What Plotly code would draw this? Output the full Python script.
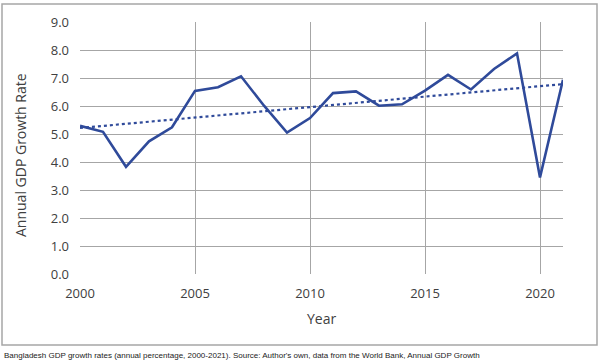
import numpy as np
import plotly.graph_objects as go

years = list(range(2000, 2022))
gdp_growth = [5.29, 5.08, 3.83, 4.74, 5.24, 6.54, 6.67, 7.06, 6.01, 5.05, 5.57,
              6.46, 6.52, 6.01, 6.06, 6.55, 7.11, 6.59, 7.32, 7.88, 3.45, 6.94]
y_ticks = [0, 1, 2, 3, 4, 5, 6, 7, 8, 9]
y_tick_labels = ["0.0", "1.0", "2.0", "3.0", "4.0", "5.0", "6.0", "7.0", "8.0", "9.0"]
x_ticks = [2000, 2005, 2010, 2015, 2020]
caption = ("Bangladesh GDP growth rates (annual percentage, 2000-2021). Source: Author's own, "
           "data from the World Bank, Annual GDP Growth")

# Linear trendline (least squares fit of the data, as in the original)
coef = np.polyfit(years, gdp_growth, 1)
trend = [coef[0] * y + coef[1] for y in [years[0], years[-1]]]

LINE = "#2F4A9A"
GRID = "#A6A6A6"
TXT = "#404040"

fig = go.Figure()
fig.add_trace(go.Scatter(x=[years[0], years[-1]], y=trend, mode="lines",
                         line=dict(color=LINE, width=2.2, dash="dot"),
                         showlegend=False, hoverinfo="skip"))
fig.add_trace(go.Scatter(x=years, y=gdp_growth, mode="lines",
                         line=dict(color=LINE, width=2.6),
                         showlegend=False))

W, H = 600, 364
ml, mr, mt, mb = 80, 37, 22, 90
pw, ph = W - ml - mr, H - mt - mb

def px_x(p):
    return (p - ml) / pw

def px_y(p):
    return (H - mb - p) / ph

fig.update_layout(
    width=W, height=H,
    margin=dict(l=ml, r=mr, t=mt, b=mb),
    paper_bgcolor="white", plot_bgcolor="white",
    font=dict(family="Open Sans", color=TXT, size=13),
    xaxis=dict(range=[2000, 2021], tickvals=x_ticks, showgrid=True, gridcolor=GRID,
               gridwidth=1.3, zeroline=False, showline=False, ticks="",
               ticklabelstandoff=10, tickfont=dict(size=13, color=TXT)),
    yaxis=dict(range=[0, 9], tickvals=y_ticks, ticktext=y_tick_labels, showgrid=True,
               gridcolor=GRID, gridwidth=1.3, zeroline=False, showline=False, ticks="",
               ticklabelstandoff=10, tickfont=dict(size=13, color=TXT)),
    shapes=[
        dict(type="rect", xref="paper", yref="paper",
             x0=px_x(2), x1=px_x(597), y0=px_y(345), y1=px_y(4),
             line=dict(color=GRID, width=1.5), fillcolor="rgba(0,0,0,0)", layer="below"),
    ],
    annotations=[
        dict(text="Year", xref="paper", yref="paper", x=0.5, y=px_y(318),
             showarrow=False, font=dict(size=14, color=TXT), xanchor="center", yanchor="middle"),
        dict(text="Annual GDP Growth Rate", xref="paper", yref="paper", x=px_x(20),
             y=px_y(155), textangle=-90, showarrow=False, font=dict(size=14, color=TXT),
             xanchor="center", yanchor="middle"),
        dict(text=caption, xref="paper", yref="paper", x=px_x(2), y=px_y(355),
             showarrow=False, font=dict(family="Liberation Sans", size=8, color="#222222"),
             xanchor="left", yanchor="middle"),
    ],
)

fig.write_html("out.html", config={"displayModeBar": False},
               post_script="document.body.style.margin='0';document.body.style.overflow='hidden';")
